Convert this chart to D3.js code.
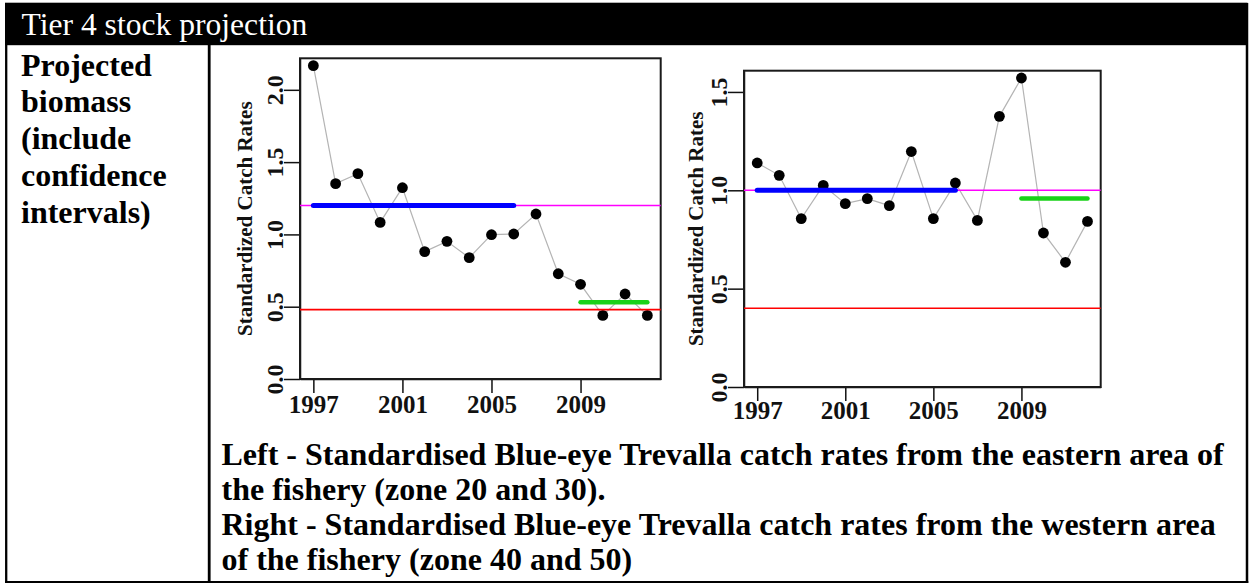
<!DOCTYPE html>
<html>
<head>
<meta charset="utf-8">
<script src="https://cdn.jsdelivr.net/npm/d3@7"></script>
<style>
  html, body { margin: 0; padding: 0; background: #ffffff; }
  svg { display: block; }
</style>
</head>
<body>
<svg id="page" width="1250" height="583"></svg>
<script>
// ---- data ----
const years = [1997, 1998, 1999, 2000, 2001, 2002, 2003, 2004,
               2005, 2006, 2007, 2008, 2009, 2010, 2011, 2012];
const xTickYears = [1997, 2001, 2005, 2009];

// standardised catch rates, eastern area (zones 20 and 30)
const eastRates = [2.167, 1.351, 1.420, 1.083, 1.323, 0.881, 0.952, 0.839,
                   0.998, 1.003, 1.141, 0.728, 0.655, 0.440, 0.588, 0.440];
// standardised catch rates, western area (zones 40 and 50)
const westRates = [1.139, 1.076, 0.856, 1.025, 0.932, 0.958, 0.922, 1.197,
                   0.856, 1.037, 0.847, 1.376, 1.571, 0.783, 0.634, 0.842];

const eastYTicks = [0, 0.5, 1.0, 1.5, 2.0];
const westYTicks = [0, 0.5, 1.0, 1.5];

// reference period, recent period and reference levels
const referenceYears = [1997, 2006];
const recentYears = [2009, 2012];
const eastLevels = { target: 1.20, limit: 0.48, recent: 0.53 };
const westLevels = { target: 1.00, limit: 0.40, recent: 0.958 };

const headerText = "Tier 4 stock projection";
const rowLabelLines = ["Projected", "biomass", "(include", "confidence", "intervals)"];
const captionLines = [
  "Left - Standardised Blue-eye Trevalla catch rates from the eastern area of",
  "the fishery (zone 20 and 30).",
  "Right - Standardised Blue-eye Trevalla catch rates from the western area",
  "of the fishery (zone 40 and 50)"
];
const yTitle = "Standardized Catch Rates";

// ---- page / table ----
const svg = d3.select("#page");
const serif = "'Liberation Serif', 'Times New Roman', Times, serif";

// header band
svg.append("rect")
  .attr("x", 5).attr("y", 2.7).attr("width", 1242.5).attr("height", 42.5)
  .attr("fill", "#000");
svg.append("text")
  .attr("x", 21.5).attr("y", 35)
  .attr("font-family", serif).attr("font-size", 31.6)
  .attr("fill", "#fff")
  .text(headerText);

// table borders
const border = svg.append("g").attr("stroke", "#000").attr("fill", "none");
border.append("line").attr("x1", 6.2).attr("x2", 6.2).attr("y1", 3).attr("y2", 583).attr("stroke-width", 2.3);
border.append("line").attr("x1", 1247).attr("x2", 1247).attr("y1", 3).attr("y2", 583).attr("stroke-width", 2.5);
border.append("line").attr("x1", 5).attr("x2", 1248.3).attr("y1", 582).attr("y2", 582).attr("stroke-width", 2);
border.append("line").attr("x1", 209.2).attr("x2", 209.2).attr("y1", 45).attr("y2", 583).attr("stroke-width", 2.8);

// row label (left cell)
svg.append("g").selectAll("text")
  .data(rowLabelLines)
  .join("text")
  .attr("x", 21).attr("y", (d, i) => 75.5 + i * 36.8)
  .attr("font-family", serif).attr("font-size", 32).attr("font-weight", "bold")
  .attr("fill", "#000")
  .text(d => d);

// caption under the charts
svg.append("g").selectAll("text")
  .data(captionLines)
  .join("text")
  .attr("x", 221.5).attr("y", (d, i) => 465 + i * 35)
  .attr("font-family", serif).attr("font-size", 32).attr("font-weight", "bold")
  .attr("fill", "#000")
  .text(d => d);

// ---- catch-rate panel ----
function drawPanel(cfg) {
  const x = d3.scaleLinear().domain([1996.4, 2012.6]).range([cfg.left, cfg.right]);
  const y = d3.scaleLinear().domain([0, cfg.yMax]).range([cfg.bottom, cfg.top]);
  const g = svg.append("g");

  // y axis
  const yAxis = g.append("g")
    .attr("transform", `translate(${cfg.left},0)`)
    .call(d3.axisLeft(y).tickValues(cfg.yTicks).tickSize(16).tickSizeOuter(0)
      .tickFormat(d3.format(".1f")));
  yAxis.select(".domain").attr("stroke", "#111").attr("stroke-width", 1.5);
  yAxis.selectAll(".tick line").attr("stroke", "#111").attr("stroke-width", 1.5);
  yAxis.selectAll(".tick text")
    .attr("x", null).attr("dy", null)
    .attr("transform", "translate(-17,0) rotate(-90)")
    .attr("text-anchor", "middle")
    .attr("font-family", serif).attr("font-size", 24).attr("font-weight", "bold")
    .attr("fill", "#111");

  // x axis
  const xAxis = g.append("g")
    .attr("transform", `translate(0,${cfg.bottom})`)
    .call(d3.axisBottom(x).tickValues(xTickYears).tickSize(14).tickSizeOuter(0)
      .tickFormat(d3.format("d")));
  xAxis.select(".domain").attr("stroke", "#111").attr("stroke-width", 1.5);
  xAxis.selectAll(".tick line").attr("stroke", "#111").attr("stroke-width", 1.5);
  xAxis.selectAll(".tick text")
    .attr("y", cfg.xLabelBaseline).attr("dy", null)
    .attr("font-family", serif).attr("font-size", 25).attr("font-weight", "bold")
    .attr("fill", "#111");

  // y axis title
  g.append("text")
    .attr("transform", `translate(${cfg.left - cfg.titleOffset},${(cfg.top + cfg.bottom) / 2}) rotate(-90)`)
    .attr("text-anchor", "middle")
    .attr("font-family", serif).attr("font-size", 21).attr("font-weight", "bold")
    .attr("fill", "#111")
    .text(yTitle);

  // plot box
  g.append("rect")
    .attr("x", cfg.left).attr("y", cfg.top)
    .attr("width", cfg.right - cfg.left).attr("height", cfg.bottom - cfg.top)
    .attr("fill", "none").attr("stroke", "#1a1a1a").attr("stroke-width", 2);

  // series line and points
  const pts = years.map((yr, i) => ({ yr, v: cfg.values[i] }));
  g.append("path")
    .datum(pts)
    .attr("fill", "none").attr("stroke", "#b4b4b4").attr("stroke-width", 1.2)
    .attr("d", d3.line().x(d => x(d.yr)).y(d => y(d.v)));
  g.append("g").selectAll("circle")
    .data(pts)
    .join("circle")
    .attr("cx", d => x(d.yr)).attr("cy", d => y(d.v))
    .attr("r", 5.4).attr("fill", "#000");

  // reference levels
  const L = cfg.levels;
  g.append("line")
    .attr("x1", cfg.left).attr("x2", cfg.right)
    .attr("y1", y(L.target)).attr("y2", y(L.target))
    .attr("stroke", "#ff00ff").attr("stroke-width", 1.6);
  g.append("line")
    .attr("x1", cfg.left).attr("x2", cfg.right)
    .attr("y1", y(L.limit)).attr("y2", y(L.limit))
    .attr("stroke", "#ff0000").attr("stroke-width", 1.6);
  g.append("line")
    .attr("x1", x(referenceYears[0])).attr("x2", x(referenceYears[1]))
    .attr("y1", y(L.target)).attr("y2", y(L.target))
    .attr("stroke", "#0000ff").attr("stroke-width", 5).attr("stroke-linecap", "round");
  g.append("line")
    .attr("x1", x(recentYears[0])).attr("x2", x(recentYears[1]))
    .attr("y1", y(L.recent)).attr("y2", y(L.recent))
    .attr("stroke", "#19d219").attr("stroke-width", 4.5).attr("stroke-linecap", "round");
}

drawPanel({
  left: 300, right: 660.7, top: 58.3, bottom: 379,
  yMax: 2.218, yTicks: eastYTicks, values: eastRates, levels: eastLevels,
  titleOffset: 48, xLabelBaseline: 34
});
drawPanel({
  left: 744, right: 1100.7, top: 70.7, bottom: 387,
  yMax: 1.608, yTicks: westYTicks, values: westRates, levels: westLevels,
  titleOffset: 41, xLabelBaseline: 32
});
</script>
</body>
</html>
